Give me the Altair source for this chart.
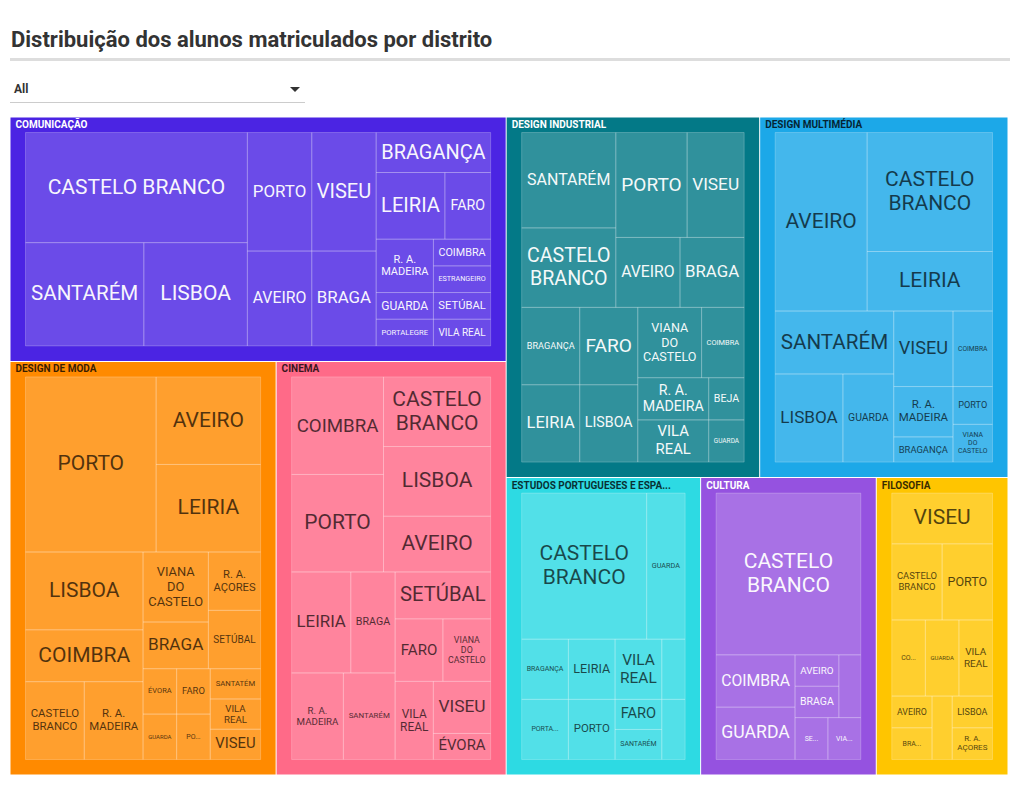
import altair as alt
import pandas as pd

# ---------------- data (students per district, per course) ----------------
COURSES = ["COMUNICAÇÃO", "DESIGN DE MODA", "CINEMA", "DESIGN INDUSTRIAL",
           "DESIGN MULTIMÉDIA", "ESTUDOS PORTUGUESES E ESPANHÓIS", "CULTURA", "FILOSOFIA"]
COURSE_COLORS = ["#4B24E3", "#FF8A00", "#FF6A88", "#037987",
                 "#1CA8E8", "#2DDAE3", "#9552E0", "#FFC500"]

comunicacao_districts = ["CASTELO BRANCO", "SANTARÉM", "LISBOA", "PORTO", "VISEU", "AVEIRO", "BRAGA",
                         "BRAGANÇA", "LEIRIA", "FARO", "R. A. MADEIRA", "COIMBRA", "ESTRANGEIRO",
                         "GUARDA", "PORTALEGRE", "SETÚBAL", "VILA REAL"]
comunicacao_students = [16, 8, 7, 5, 5, 4, 4, 3, 3, 2, 2, 1, 1, 1, 1, 1, 1]

moda_districts = ["PORTO", "AVEIRO", "LEIRIA", "LISBOA", "COIMBRA", "CASTELO BRANCO", "R. A. MADEIRA",
                  "VIANA DO CASTELO", "BRAGA", "R. A. AÇORES", "SETÚBAL", "ÉVORA", "FARO", "GUARDA",
                  "PORTALEGRE", "SANTATÉM", "VILA REAL", "VISEU"]
moda_students = [15, 6, 6, 6, 4, 3, 3, 3, 2, 2, 2, 1, 1, 1, 1, 1, 1, 1]

cinema_districts = ["COIMBRA", "PORTO", "CASTELO BRANCO", "LISBOA", "AVEIRO", "LEIRIA", "BRAGA",
                    "R. A. MADEIRA", "SANTARÉM", "SETÚBAL", "FARO", "VIANA DO CASTELO", "VILA REAL",
                    "VISEU", "ÉVORA"]
cinema_students = [6, 6, 5, 5, 4, 4, 3, 3, 3, 3, 2, 2, 2, 2, 1]

industrial_districts = ["SANTARÉM", "CASTELO BRANCO", "PORTO", "VISEU", "AVEIRO", "BRAGA", "BRAGANÇA",
                        "FARO", "LEIRIA", "LISBOA", "VIANA DO CASTELO", "COIMBRA", "R. A. MADEIRA",
                        "VILA REAL", "BEJA", "GUARDA"]
industrial_students = [6, 5, 5, 4, 3, 3, 3, 3, 3, 3, 3, 2, 2, 2, 1, 1]

multimedia_districts = ["AVEIRO", "CASTELO BRANCO", "LEIRIA", "SANTARÉM", "LISBOA", "GUARDA", "VISEU",
                        "COIMBRA", "R. A. MADEIRA", "BRAGANÇA", "PORTO", "VIANA DO CASTELO"]
multimedia_students = [11, 10, 5, 5, 4, 3, 3, 2, 2, 1, 1, 1]

estudos_districts = ["CASTELO BRANCO", "GUARDA", "BRAGANÇA", "LEIRIA", "PORTALEGRE", "PORTO",
                     "VILA REAL", "AVEIRO", "FARO", "SANTARÉM", "VISEU"]
estudos_students = [13, 4, 2, 2, 2, 2, 2, 1, 1, 1, 1]

cultura_districts = ["CASTELO BRANCO", "COIMBRA", "GUARDA", "AVEIRO", "BRAGA", "PORTO", "SETÚBAL",
                     "VIANA DO CASTELO"]
cultura_students = [17, 3, 3, 1, 1, 1, 1, 1]

filosofia_districts = ["VISEU", "CASTELO BRANCO", "PORTO", "COIMBRA", "GUARDA", "VILA REAL", "AVEIRO",
                       "BRAGA", "LEIRIA", "LISBOA", "R. A. AÇORES"]
filosofia_students = [4, 3, 3, 2, 2, 2, 1, 1, 1, 1, 1]

COURSE_DATA = {
    "COMUNICAÇÃO": (comunicacao_districts, comunicacao_students),
    "DESIGN DE MODA": (moda_districts, moda_students),
    "CINEMA": (cinema_districts, cinema_students),
    "DESIGN INDUSTRIAL": (industrial_districts, industrial_students),
    "DESIGN MULTIMÉDIA": (multimedia_districts, multimedia_students),
    "ESTUDOS PORTUGUESES E ESPANHÓIS": (estudos_districts, estudos_students),
    "CULTURA": (cultura_districts, cultura_students),
    "FILOSOFIA": (filosofia_districts, filosofia_students),
}

# labels as shown (truncated / hidden where the tile is too small)
SHOWN_LABELS = {
    ("DESIGN DE MODA", "PORTALEGRE"): "PO...",
    ("ESTUDOS PORTUGUESES E ESPANHÓIS", "PORTALEGRE"): "PORTA...",
    ("ESTUDOS PORTUGUESES E ESPANHÓIS", "AVEIRO"): "",
    ("ESTUDOS PORTUGUESES E ESPANHÓIS", "VISEU"): "",
    ("CULTURA", "PORTO"): "",
    ("CULTURA", "SETÚBAL"): "SE...",
    ("CULTURA", "VIANA DO CASTELO"): "VIA...",
    ("FILOSOFIA", "COIMBRA"): "CO...",
    ("FILOSOFIA", "BRAGA"): "BRA...",
    ("FILOSOFIA", "LEIRIA"): "",
}
SHOWN_COURSE = {"ESTUDOS PORTUGUESES E ESPANHÓIS": "ESTUDOS PORTUGUESES E ESPA..."}

TITLE = "Distribuição dos alunos matriculados por distrito"
FILTER_TEXT = "All"

# ---------------- layout helpers ----------------
PAGE_W, PAGE_H = 1004, 771
AREA = (2.0, 109.0, 1000.0, 767.0)
GAP = 0.5
PAD = 15.0
T_RATIO = 1.005
LINE_H = 1.15


def binary_treemap(items, x0, y0, x1, y1):
    n = len(items)
    sums = [0.0]
    for _, v in items:
        sums.append(sums[-1] + v)
    out = {}

    def part(i, j, value, x0, y0, x1, y1):
        if i >= j - 1:
            out[items[i][0]] = (x0, y0, x1, y1)
            return
        off = sums[i]
        target = value / 2 + off
        k, hi = i + 1, j - 1
        while k < hi:
            mid = (k + hi) // 2
            if sums[mid] < target:
                k = mid + 1
            else:
                hi = mid
        if (target - sums[k - 1]) < (sums[k] - target) and i + 1 < k:
            k -= 1
        vl = sums[k] - off
        vr = value - vl
        if (x1 - x0) > T_RATIO * (y1 - y0):
            xk = (x0 * vr + x1 * vl) / value
            part(i, k, vl, x0, y0, xk, y1)
            part(k, j, vr, xk, y0, x1, y1)
        else:
            yk = (y0 * vr + y1 * vl) / value
            part(i, k, vl, x0, y0, x1, yk)
            part(k, j, vr, x0, yk, x1, y1)

    part(0, n, sums[-1], x0, y0, x1, y1)
    return out


W_EM = {"A": .652, "B": .623, "C": .651, "D": .656, "E": .568, "F": .553, "G": .681, "H": .713,
        "I": .272, "J": .552, "K": .627, "L": .538, "M": .873, "N": .713, "O": .688, "P": .631,
        "Q": .688, "R": .616, "S": .594, "T": .597, "U": .649, "V": .637, "W": .887, "X": .627,
        "Y": .6, "Z": .6, " ": .248, ".": .263, "Ç": .651, "É": .568, "Ã": .652, "Á": .652,
        "Ó": .688, "Ú": .649, "Ê": .568, "Í": .272}


def tw(s):
    return sum(W_EM.get(c, 0.62) for c in s)


def fit_label(label, w, h):
    words = label.split(" ")
    n = len(words)
    cands = []
    for mask in range(2 ** (n - 1)):
        lines, cur = [], [words[0]]
        for i in range(1, n):
            if (mask >> (i - 1)) & 1:
                lines.append(" ".join(cur))
                cur = [words[i]]
            else:
                cur.append(words[i])
        lines.append(" ".join(cur))
        fw = (w - 10) / max(tw(l) for l in lines)
        fh = (h - 8) / (len(lines) * LINE_H)
        cands.append((min(21.0, fw, fh), lines))
    cands.sort(key=lambda c: len(c[1]))
    best = cands[0]
    for c in cands[1:]:
        if c[0] > best[0] * 1.02:
            best = c
    return max(best[0], 6.0), best[1]


def luminance(hexcol):
    r, g, b = (int(hexcol[i:i + 2], 16) / 255 for i in (1, 3, 5))
    return 0.2126 * r + 0.7152 * g + 0.0722 * b


# ---------------- build layout ----------------
course_totals = [sum(COURSE_DATA[c][1]) for c in COURSES]
top_items = sorted(zip(COURSES, course_totals), key=lambda t: -t[1])
top = binary_treemap(top_items, *AREA)

group_rows, leaf_rows, text_rows, head_rows = [], [], [], []
for c, col in zip(COURSES, COURSE_COLORS):
    gx0, gy0, gx1, gy1 = top[c]
    districts, students = COURSE_DATA[c]
    items = sorted(zip(districts, students), key=lambda t: -t[1])
    sub = binary_treemap(items, gx0, gy0, gx1, gy1)
    rx0, ry0, rx1, ry1 = gx0 + GAP, gy0 + GAP, gx1 - GAP, gy1 - GAP
    dark = luminance(col) < 0.5
    group_rows.append(dict(course=c, x0=rx0, y0=ry0, x1=rx1, y1=ry1, color=col))
    head_rows.append(dict(x=rx0 + 5, y=ry0 + 7.5, text=SHOWN_COURSE.get(c, c),
                          tc="#ffffff" if dark else "#000000", op=1.0 if dark else 0.78))
    ix0, iy0, ix1, iy1 = rx0 + PAD, ry0 + PAD, rx1 - PAD, ry1 - PAD
    sx = (ix1 - ix0) / (gx1 - gx0)
    sy = (iy1 - iy0) / (gy1 - gy0)
    for d, v in items:
        a, b, e, f = sub[d]
        lx0, lx1 = ix0 + (a - gx0) * sx, ix0 + (e - gx0) * sx
        ly0, ly1 = iy0 + (b - gy0) * sy, iy0 + (f - gy0) * sy
        leaf_rows.append(dict(course=c, district=d, students=v, x0=lx0, y0=ly0, x1=lx1, y1=ly1))
        shown = SHOWN_LABELS.get((c, d), d)
        if not shown:
            continue
        if (c, d) in SHOWN_LABELS:
            fs, lines = 7.0, [shown]
        else:
            fs, lines = fit_label(shown, lx1 - lx0, ly1 - ly0)
        cx, cy = (lx0 + lx1) / 2, (ly0 + ly1) / 2
        nl = len(lines)
        for i, line in enumerate(lines):
            text_rows.append(dict(x=cx, y=cy + (i - (nl - 1) / 2) * fs * LINE_H, line=line, fs=fs,
                                  tc="#ffffff" if dark else "#000000", op=0.95 if dark else 0.68))

gdf = pd.DataFrame(group_rows)
ldf = pd.DataFrame(leaf_rows)
tdf = pd.DataFrame(text_rows)
hdf = pd.DataFrame(head_rows)

xs = alt.Scale(domain=[0, PAGE_W], range=[0, PAGE_W])
ys = alt.Scale(domain=[0, PAGE_H], range=[0, PAGE_H])


def rect_enc():
    return dict(x=alt.X("x0:Q", scale=xs, axis=None), x2="x1:Q",
                y=alt.Y("y0:Q", scale=ys, axis=None), y2="y1:Q")


groups = alt.Chart(gdf).mark_rect().encode(color=alt.Color("color:N", scale=None), **rect_enc())
leaves = alt.Chart(ldf).mark_rect(fill="white", fillOpacity=0.18, stroke="white",
                                   strokeOpacity=0.22, strokeWidth=1).encode(
    tooltip=["course:N", "district:N", "students:Q"], **rect_enc())
labels = alt.Chart(tdf).mark_text(font="Roboto", align="center", baseline="middle").encode(
    x=alt.X("x:Q", scale=xs, axis=None), y=alt.Y("y:Q", scale=ys, axis=None),
    text="line:N", size=alt.Size("fs:Q", scale=None),
    color=alt.Color("tc:N", scale=None), opacity=alt.Opacity("op:Q", scale=None))
heads = alt.Chart(hdf).mark_text(font="Roboto", fontWeight="bold", fontSize=10,
                                 align="left", baseline="middle").encode(
    x=alt.X("x:Q", scale=xs, axis=None), y=alt.Y("y:Q", scale=ys, axis=None),
    text="text:N", color=alt.Color("tc:N", scale=None), opacity=alt.Opacity("op:Q", scale=None))

one = pd.DataFrame({"k": [0]})
title = alt.Chart(one).mark_text(font="Roboto", fontWeight="bold", fontSize=22, color="#333333",
                                 align="left", baseline="alphabetic").encode(
    x=alt.value(3), y=alt.value(39), text=alt.value(TITLE))
title_rule = alt.Chart(one).mark_rule(color="#dddddd", strokeWidth=3).encode(
    x=alt.value(2), x2=alt.value(1002), y=alt.value(51.5))
filt_text = alt.Chart(one).mark_text(font="Roboto", fontWeight="bold", fontSize=12, color="#333333",
                                     align="left", baseline="middle").encode(
    x=alt.value(6), y=alt.value(81), text=alt.value(FILTER_TEXT))
filt_rule = alt.Chart(one).mark_rule(color="#cccccc", strokeWidth=1).encode(
    x=alt.value(2), x2=alt.value(297), y=alt.value(94.5))
filt_arrow = alt.Chart(one).mark_point(shape="M-1,-0.5L1,-0.5L0,0.5Z", filled=True, size=100,
                                       color="#333333", opacity=1).encode(
    x=alt.value(287), y=alt.value(81.5))

chart = alt.layer(groups, leaves, labels, heads, title, title_rule, filt_text, filt_rule,
                  filt_arrow).properties(
    width=PAGE_W, height=PAGE_H, padding=0, autosize="none"
).configure_view(strokeWidth=0)

chart.save("out.html", embed_options={"renderer": "svg", "actions": False})
